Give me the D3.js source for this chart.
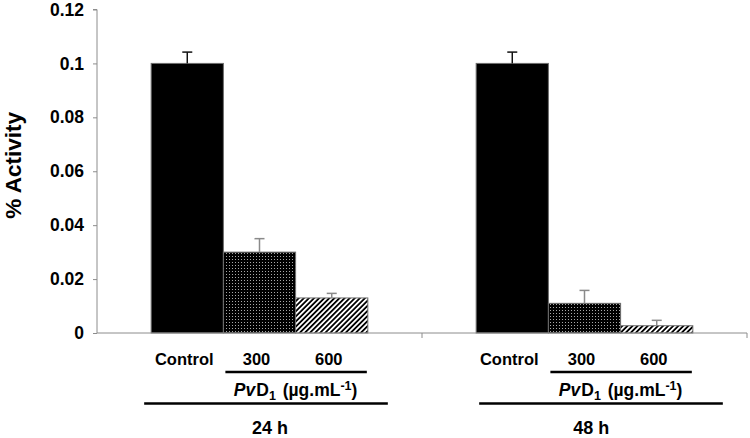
<!DOCTYPE html>
<html><head><meta charset="utf-8">
<script src="https://cdn.jsdelivr.net/npm/d3@7"></script>
<style>
html,body{margin:0;padding:0;background:#fff;}
svg{display:block;font-family:"Liberation Sans",Arial,sans-serif;}
</style></head>
<body>
<svg id="chart" width="750" height="438"></svg>
<script>
const groups = ["24 h", "48 h"];
const treatments = ["Control", "300", "600"];
const values24 = [0.100, 0.030, 0.013];
const values48 = [0.100, 0.011, 0.0027];
const errors24 = [0.0042, 0.005, 0.0017];
const errors48 = [0.0042, 0.0048, 0.002];
const yTicks = [0, 0.02, 0.04, 0.06, 0.08, 0.1, 0.12];
const yTickLabels = ["0", "0.02", "0.04", "0.06", "0.08", "0.1", "0.12"];

(function(){
const valuesByGroup = [values24, values48];
const errorsByGroup = [errors24, errors48];

const svg = d3.select("#chart");
const mLeft = 97, mRight = 747, mTop = 9.5, mBottom = 333;

const x0 = d3.scaleBand().domain(groups).range([mLeft, mRight]).paddingInner(1/3).paddingOuter(1/6);
const x1 = d3.scaleBand().domain(treatments).range([0, x0.bandwidth()]);
const y = d3.scaleLinear().domain([0, 0.12]).range([mBottom, mTop]);

const defs = svg.append("defs");
const dot = defs.append("pattern").attr("id","dots").attr("patternUnits","userSpaceOnUse")
  .attr("width",3).attr("height",3);
dot.append("rect").attr("width",3).attr("height",3).attr("fill","#000");
dot.append("rect").attr("x",1).attr("y",1).attr("width",1).attr("height",1).attr("fill","#a8a8a8");
const hatch = defs.append("pattern").attr("id","hatch").attr("patternUnits","userSpaceOnUse")
  .attr("width",3.6).attr("height",3.6).attr("patternTransform","rotate(45)");
hatch.append("rect").attr("width",3.6).attr("height",3.6).attr("fill","#fff");
hatch.append("rect").attr("width",1.8).attr("height",3.6).attr("fill","#000");

const fills = ["#000", "url(#dots)", "url(#hatch)"];
const errColors = ["#111", "#8a8a8a", "#8a8a8a"];

// y axis
const yAxis = d3.axisLeft(y).tickValues(yTicks).tickFormat((d,i)=>yTickLabels[i]).tickSize(4).tickPadding(9);
const gy = svg.append("g").attr("transform",`translate(${mLeft},0)`).call(yAxis);
gy.select(".domain").attr("stroke","#8c8c8c").attr("d",`M-4,${mTop}H0V${mBottom}`);
gy.selectAll(".tick line").attr("stroke","#8c8c8c");
gy.selectAll(".tick text").attr("fill","#000").style("font-size","17.5px").style("font-weight","bold")
  .style("font-family","'Liberation Sans',Arial,sans-serif");

// bars
groups.forEach((g, gi) => {
  const gx = x0(g);
  const vals = valuesByGroup[gi], errs = errorsByGroup[gi];
  treatments.forEach((t, ti) => {
    const bx = gx + x1(t), bw = x1.bandwidth();
    svg.append("rect").attr("x", bx).attr("y", y(vals[ti])).attr("width", bw)
      .attr("height", y(0) - y(vals[ti])).attr("fill", fills[ti])
      .attr("stroke", "#6e6e6e").attr("stroke-width", 1);
    const cx = bx + bw/2;
    svg.append("line").attr("x1",cx).attr("x2",cx).attr("y1",y(vals[ti])).attr("y2",y(vals[ti]+errs[ti]))
      .attr("stroke",errColors[ti]).attr("stroke-width",1.5);
    svg.append("line").attr("x1",cx-5).attr("x2",cx+5).attr("y1",y(vals[ti]+errs[ti])).attr("y2",y(vals[ti]+errs[ti]))
      .attr("stroke",errColors[ti]).attr("stroke-width",1.5);
  });
});

// x axis baseline with group separators
svg.append("line").attr("x1",mLeft).attr("x2",mRight).attr("y1",mBottom).attr("y2",mBottom)
  .attr("stroke","#8c8c8c").attr("stroke-width",1);
[mLeft + x0.step(), mRight].forEach(tx => {
  svg.append("line").attr("x1",tx).attr("x2",tx).attr("y1",mBottom).attr("y2",mBottom+5)
    .attr("stroke","#8c8c8c").attr("stroke-width",1);
});

// category labels and brackets
const longExt = [[-7, 20], [3, 30]];
const hOff = [10.5, 6.7];
groups.forEach((g, gi) => {
  const gx = x0(g), bw = x1.bandwidth();
  treatments.forEach((t, ti) => {
    svg.append("text").attr("x", gx + x1(t) + bw/2 - 3).attr("y", 364.5)
      .attr("text-anchor","middle").style("font-size","16.5px").style("font-weight","bold").text(t);
  });
  const sx1 = gx + x1("300") + 2, sx2 = gx + x1("600") + bw - 1;
  svg.append("line").attr("x1",sx1).attr("x2",sx2).attr("y1",372).attr("y2",372)
    .attr("stroke","#000").attr("stroke-width",2.6);
  const pv = svg.append("text").attr("x",(sx1+sx2)/2 - 0.5).attr("y",395.5)
    .attr("text-anchor","middle").style("font-size","17.5px").style("font-weight","bold");
  pv.append("tspan").style("font-style","italic").text("Pv");
  pv.append("tspan").attr("dx",1).text("D");
  pv.append("tspan").attr("dy",4).style("font-size","12.5px").text("1");
  pv.append("tspan").attr("dy",-4).attr("dx",2).text(" (µg.mL");
  pv.append("tspan").attr("dy",-6).style("font-size","12.5px").text("-1");
  pv.append("tspan").attr("dy",6).text(")");
  const lx1 = gx + longExt[gi][0], lx2 = gx + x0.bandwidth() + longExt[gi][1];
  svg.append("line").attr("x1",lx1).attr("x2",lx2).attr("y1",403.5).attr("y2",403.5)
    .attr("stroke","#000").attr("stroke-width",2.6);
  svg.append("text").attr("x",gx + x0.bandwidth()/2 + hOff[gi]).attr("y",434)
    .attr("text-anchor","middle").style("font-size","18px").style("font-weight","bold").text(g);
});

// y title
svg.append("text").attr("transform","translate(21,165.3) rotate(-90)").attr("text-anchor","middle")
  .style("font-size","22.5px").style("font-weight","bold").text("% Activity");
})();
</script>
</body></html>
